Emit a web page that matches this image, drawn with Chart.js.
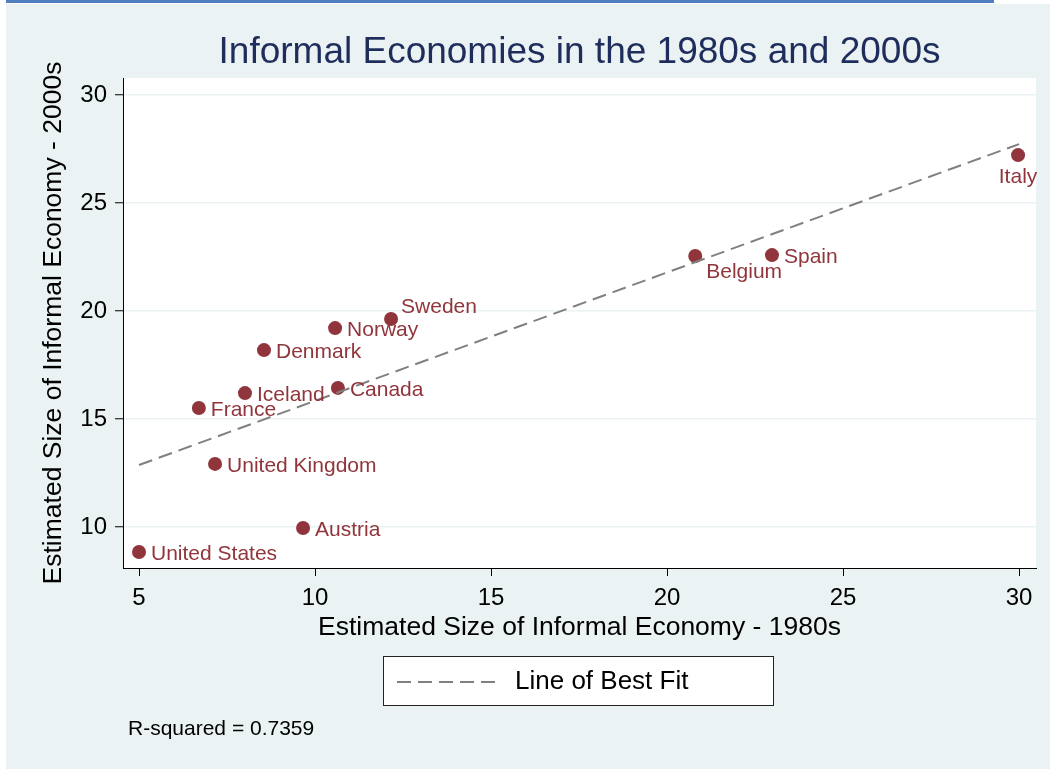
<!DOCTYPE html>
<html lang="en">
<head>
    <meta charset="UTF-8">
    <title>Informal Economies in the 1980s and 2000s</title>
    <script src="https://cdn.jsdelivr.net/npm/chart.js"></script>
    <style>
        html, body { margin: 0; padding: 0; background: #ffffff; }
        #frame {
            position: absolute; left: 6px; top: 4px; width: 1044px; height: 765px;
            background: #eaf2f3;
        }
        #topbar {
            position: absolute; left: 6px; top: 0; width: 988px; height: 3px;
            background: #4f7fbf;
        }
        #wrap { position: absolute; left: 0; top: 0; width: 1050px; height: 769px; }
    </style>
</head>
<body>
    <div id="topbar"></div>
    <div id="frame"></div>
    <div id="wrap"><canvas id="informalChart"></canvas></div>

    <script>
        // Estimated size of the informal economy (% of GDP)
        const countries = ["United States", "Austria", "United Kingdom", "France", "Iceland", "Canada",
                           "Denmark", "Norway", "Sweden", "Belgium", "Spain", "Italy"];
        const size1980s = [5.0, 9.66, 7.16, 6.70, 8.01, 10.65, 8.55, 10.57, 12.16, 20.80, 22.98, 29.97];
        const size2000s = [8.84, 9.95, 12.92, 15.51, 16.20, 16.44, 18.19, 19.21, 19.63, 22.55, 22.59, 27.22];

        // fitted line, end points
        const fitX = [5, 30];
        const fitY = [12.87, 27.73];
        const rSquared = 0.7359;

        const xTicks = [5, 10, 15, 20, 25, 30];
        const yTicks = [10, 15, 20, 25, 30];

        // where each country label sits relative to its marker
        const labelSide = ["right", "right", "right", "right", "right", "right",
                           "right", "right", "upright", "downright", "right", "below"];

        const RED = "#90353b";
        const FONT = "'Liberation Sans', Arial, Helvetica, sans-serif";

        const plotBackground = {
            id: "plotBackground",
            beforeDraw(chart) {
                const { ctx, chartArea: a } = chart;
                ctx.save();
                ctx.fillStyle = "#ffffff";
                ctx.fillRect(a.left, a.top, a.right - a.left, a.bottom - a.top);
                ctx.restore();
            }
        };

        const pointLabels = {
            id: "pointLabels",
            afterDatasetsDraw(chart) {
                const { ctx } = chart;
                const meta = chart.getDatasetMeta(1);
                ctx.save();
                ctx.font = "21px " + FONT;
                ctx.fillStyle = RED;
                meta.data.forEach((pt, i) => {
                    let x = pt.x, y = pt.y;
                    ctx.textAlign = "left";
                    ctx.textBaseline = "middle";
                    if (labelSide[i] === "right") { x += 12; y += 2; }
                    else if (labelSide[i] === "upright") { x += 10; y -= 12; }
                    else if (labelSide[i] === "downright") { x += 11; y += 16; }
                    else if (labelSide[i] === "below") { ctx.textAlign = "center"; y += 22; }
                    ctx.fillText(countries[i], x, y);
                });
                ctx.restore();
            }
        };

        const fitLegend = {
            id: "fitLegend",
            afterDraw(chart) {
                const { ctx } = chart;
                const ds = chart.data.datasets[0];
                ctx.save();
                ctx.fillStyle = "#ffffff";
                ctx.fillRect(383, 656, 391, 50);
                ctx.strokeStyle = "#222222";
                ctx.lineWidth = 1;
                ctx.strokeRect(383.5, 656.5, 390, 49);
                ctx.strokeStyle = ds.borderColor;
                ctx.lineWidth = ds.borderWidth;
                ctx.setLineDash(ds.borderDash);
                ctx.beginPath();
                ctx.moveTo(397, 682);
                ctx.lineTo(497, 682);
                ctx.stroke();
                ctx.setLineDash([]);
                ctx.fillStyle = "#000000";
                ctx.font = "26px " + FONT;
                ctx.textBaseline = "middle";
                ctx.fillText(ds.label, 515, 682);
                ctx.font = "21px " + FONT;
                ctx.fillText("R-squared = " + rSquared.toFixed(4), 128, 729);
                ctx.restore();
            }
        };

        new Chart(document.getElementById("informalChart"), {
            type: "scatter",
            data: {
                datasets: [
                    {
                        type: "line",
                        label: "Line of Best Fit",
                        data: fitX.map((x, i) => ({ x: x, y: fitY[i] })),
                        borderColor: "#808080",
                        borderWidth: 2,
                        borderDash: [14, 7],
                        pointRadius: 0,
                        fill: false
                    },
                    {
                        label: "Countries",
                        data: size1980s.map((x, i) => ({ x: x, y: size2000s[i] })),
                        backgroundColor: RED,
                        borderColor: RED,
                        pointRadius: 7,
                        pointBorderWidth: 0
                    }
                ]
            },
            options: {
                responsive: true,
                maintainAspectRatio: false,
                animation: false,
                layout: { padding: { left: 0, right: 14, top: 0, bottom: 119 } },
                plugins: {
                    legend: { display: false },
                    tooltip: { enabled: false },
                    title: {
                        display: true,
                        fullSize: false,
                        text: "Informal Economies in the 1980s and 2000s",
                        color: "#1f2d5c",
                        font: { family: FONT, size: 37, weight: "normal", lineHeight: 1 },
                        padding: { top: 34, bottom: 7 }
                    }
                },
                scales: {
                    x: {
                        type: "linear",
                        min: 4.545,
                        max: 30.48,
                        afterBuildTicks: axis => { axis.ticks = xTicks.map(v => ({ value: v })); },
                        afterFit: axis => { axis.height = 82; },
                        grid: { drawOnChartArea: false, tickLength: 8, tickColor: "#000000", tickWidth: 1 },
                        border: { color: "#000000", width: 1 },
                        ticks: { color: "#000000", font: { family: FONT, size: 24 }, padding: 8, maxRotation: 0 },
                        title: {
                            display: true,
                            text: "Estimated Size of Informal Economy - 1980s",
                            color: "#000000",
                            font: { family: FONT, size: 26.5 },
                            padding: { top: 0, bottom: 6 }
                        }
                    },
                    y: {
                        type: "linear",
                        min: 8.10,
                        max: 30.79,
                        afterBuildTicks: axis => { axis.ticks = yTicks.map(v => ({ value: v })); },
                        afterFit: axis => { axis.width = 123; },
                        grid: { color: "#eaf2f3", lineWidth: 1.5, tickLength: 8, tickColor: "#000000", tickWidth: 1 },
                        border: { color: "#000000", width: 1 },
                        ticks: { color: "#000000", font: { family: FONT, size: 24 }, padding: 8 },
                        title: {
                            display: true,
                            text: "Estimated Size of Informal Economy - 2000s",
                            color: "#000000",
                            font: { family: FONT, size: 26.5 },
                            padding: { top: 38, bottom: 0 }
                        }
                    }
                }
            },
            plugins: [plotBackground, pointLabels, fitLegend]
        });
    </script>
</body>
</html>
